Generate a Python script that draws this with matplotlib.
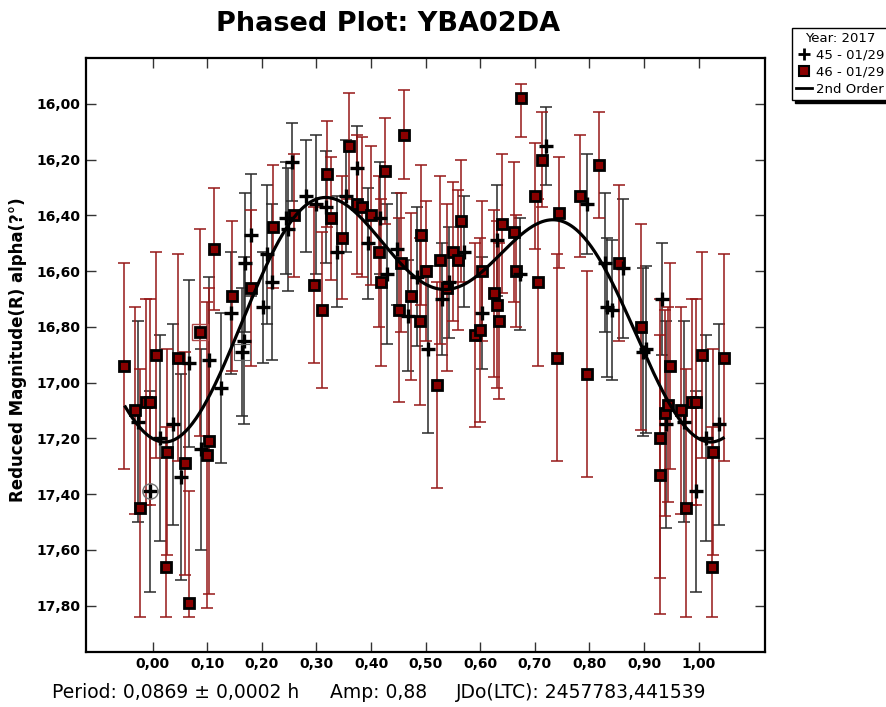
import numpy as np
import matplotlib
matplotlib.use("Agg")
import matplotlib.pyplot as plt
from matplotlib.lines import Line2D
from matplotlib.ticker import FuncFormatter

# session 46 - 01/29 (red squares), phase in [0, 1)
sq_phase = [0.060, 0.066, 0.086, 0.099, 0.104, 0.112, 0.145, 0.180, 0.220, 0.258,
            0.295, 0.310, 0.320, 0.326, 0.346, 0.359, 0.375, 0.383, 0.400, 0.414,
            0.418, 0.425, 0.452, 0.454, 0.460, 0.473, 0.489, 0.492, 0.500, 0.520,
            0.527, 0.539, 0.551, 0.560, 0.565, 0.590, 0.599, 0.603, 0.625, 0.630,
            0.635, 0.639, 0.661, 0.666, 0.674, 0.700, 0.705, 0.713, 0.740, 0.744,
            0.782, 0.795, 0.817, 0.855, 0.894, 0.930, 0.930, 0.939, 0.944, 0.947,
            0.967, 0.976, 0.987, 0.995, 0.007, 0.024, 0.026, 0.046]
sq_mag = [17.29, 17.79, 16.82, 17.26, 17.21, 16.52, 16.69, 16.66, 16.44, 16.40,
          16.65, 16.74, 16.25, 16.41, 16.48, 16.15, 16.36, 16.37, 16.40, 16.53,
          16.64, 16.24, 16.74, 16.57, 16.11, 16.69, 16.78, 16.47, 16.60, 17.01,
          16.56, 16.66, 16.53, 16.56, 16.42, 16.83, 16.81, 16.60, 16.68, 16.72,
          16.78, 16.43, 16.46, 16.60, 15.98, 16.33, 16.64, 16.20, 16.91, 16.39,
          16.33, 16.97, 16.22, 16.57, 16.80, 17.20, 17.33, 17.11, 17.08, 16.94,
          17.10, 17.45, 17.07, 17.07, 16.90, 17.66, 17.25, 16.91]
sq_err = [0.40, 0.40, 0.37, 0.55, 0.55, 0.22, 0.27, 0.28, 0.22, 0.22,
          0.28, 0.28, 0.19, 0.22, 0.22, 0.19, 0.25, 0.25, 0.25, 0.27,
          0.30, 0.19, 0.33, 0.25, 0.16, 0.30, 0.30, 0.25, 0.25, 0.37,
          0.30, 0.30, 0.25, 0.25, 0.22, 0.33, 0.33, 0.25, 0.30, 0.30,
          0.28, 0.25, 0.25, 0.20, 0.14, 0.19, 0.30, 0.17, 0.37, 0.20,
          0.22, 0.37, 0.19, 0.28, 0.37, 0.50, 0.50, 0.37, 0.35, 0.37,
          0.37, 0.50, 0.37, 0.37, 0.37, 0.50, 0.37, 0.37]

# session 45 - 01/29 (black crosses)
cr_phase = [0.013, 0.037, 0.052, 0.066, 0.088, 0.103, 0.125, 0.143, 0.163, 0.167,
            0.170, 0.181, 0.203, 0.209, 0.218, 0.244, 0.247, 0.256, 0.280, 0.300,
            0.318, 0.337, 0.355, 0.375, 0.394, 0.417, 0.429, 0.447, 0.467, 0.484,
            0.505, 0.530, 0.542, 0.570, 0.603, 0.630, 0.672, 0.720, 0.795, 0.828,
            0.832, 0.842, 0.862, 0.899, 0.903, 0.932, 0.941, 0.974, 0.995]
cr_mag = [17.20, 17.15, 17.34, 16.93, 17.24, 16.92, 17.02, 16.75, 16.89, 16.85,
          16.57, 16.47, 16.73, 16.54, 16.64, 16.41, 16.45, 16.21, 16.33, 16.36,
          16.37, 16.53, 16.33, 16.23, 16.50, 16.41, 16.61, 16.52, 16.76, 16.62,
          16.88, 16.70, 16.64, 16.53, 16.75, 16.49, 16.61, 16.15, 16.36, 16.57,
          16.73, 16.74, 16.59, 16.89, 16.88, 16.70, 17.15, 17.14, 17.39]
cr_err = [0.37, 0.36, 0.37, 0.30, 0.36, 0.30, 0.27, 0.22, 0.23, 0.30,
          0.25, 0.22, 0.20, 0.25, 0.28, 0.20, 0.22, 0.14, 0.20, 0.25,
          0.20, 0.20, 0.20, 0.15, 0.20, 0.20, 0.25, 0.20, 0.20, 0.25,
          0.30, 0.20, 0.20, 0.20, 0.20, 0.20, 0.20, 0.14, 0.18, 0.25,
          0.25, 0.25, 0.25, 0.30, 0.30, 0.20, 0.37, 0.36, 0.36]

# highlighted points (plotted phase, mag)
circled = [(-0.005, 17.39)]
boxed_sq = [(0.086, 16.82)]
boxed_cr = [(0.163, 16.89)]

# 2nd order Fourier fit
fit_mean = 16.675
fit_cos = [0.277, 0.249]
fit_sin = [0.005, 0.087]

x_ticks = [0.0, 0.1, 0.2, 0.3, 0.4, 0.5, 0.6, 0.7, 0.8, 0.9, 1.0]
y_ticks = [16.0, 16.2, 16.4, 16.6, 16.8, 17.0, 17.2, 17.4, 17.6, 17.8]

PH_LO, PH_HI = -0.055, 1.05
CLIP_TOP, CLIP_BOT = 15.93, 17.84


def wrap(phase, mag, err):
    phase = np.asarray(phase)
    p = np.concatenate([phase - 1, phase, phase + 1])
    m = np.tile(mag, 3)
    e = np.tile(err, 3)
    keep = (p >= PH_LO) & (p <= PH_HI)
    p, m, e = p[keep], m[keep], e[keep]
    up = m - np.maximum(m - e, CLIP_TOP)
    down = np.minimum(m + e, CLIP_BOT) - m
    return p, m, [up, down]


fig = plt.figure(figsize=(8.86, 7.07), dpi=100)
ax = fig.add_axes([0.0971, 0.0785, 0.7663, 0.8395])

cp, cm, ce = wrap(cr_phase, cr_mag, cr_err)
sp, sm, se = wrap(sq_phase, sq_mag, sq_err)

ax.errorbar(cp, cm, yerr=ce, fmt='none', ecolor='#2a2a2a', elinewidth=1.1,
            capsize=4, capthick=1.1, zorder=2)
ax.errorbar(sp, sm, yerr=se, fmt='none', ecolor='#961818', elinewidth=1.1,
            capsize=4, capthick=1.1, zorder=2)
ax.plot(sp, sm, 's', ms=6.6, mfc='#8b0000', mec='black', mew=2.0, zorder=3)
ax.plot(cp, cm, '+', ms=9.5, color='black', mew=2.4, zorder=4)

hx, hy = zip(*circled)
ax.plot(hx, hy, 'o', ms=11, mfc='none', mec='#707070', mew=1, zorder=4)
hx, hy = zip(*boxed_sq)
ax.plot(hx, hy, 's', ms=12, mfc='none', mec='#b04848', mew=1, zorder=4)
hx, hy = zip(*boxed_cr)
ax.plot(hx, hy, 's', ms=12, mfc='none', mec='#606060', mew=0.8, zorder=4)

ph = np.linspace(-0.05, 1.045, 500)
curve = fit_mean + sum(fit_cos[k] * np.cos(2 * np.pi * (k + 1) * ph) +
                       fit_sin[k] * np.sin(2 * np.pi * (k + 1) * ph) for k in range(2))
ax.plot(ph, curve, color='black', lw=2.3, zorder=5)

ax.set_xlim(-0.122, 1.1215)
ax.set_ylim(17.965, 15.835)
ax.set_xticks(x_ticks)
ax.set_yticks(y_ticks)
fmt = FuncFormatter(lambda v, pos: f"{v:.2f}".replace('.', ','))
ax.xaxis.set_major_formatter(fmt)
ax.yaxis.set_major_formatter(fmt)
ax.tick_params(direction='in', length=7, width=1, color='#333333',
               top=True, right=True, pad=4, labelsize=10)
for lab in ax.get_xticklabels() + ax.get_yticklabels():
    lab.set_fontweight('bold')
for s in ax.spines.values():
    s.set_linewidth(1.6)

fig.text(388 / 886, 1 - 24 / 707, 'Phased Plot: YBA02DA', ha='center', va='center',
         fontsize=19.5, fontweight='bold')
fig.text(18.5 / 886, 1 - 350 / 707, 'Reduced Magnitude(R) alpha(?°)', rotation=90,
         ha='center', va='center', fontsize=12, fontweight='bold')

yb = 1 - 692 / 707
fig.text(52 / 886, yb, 'Period: 0,0869 ± 0,0002 h', ha='left', va='center', fontsize=13.5)
fig.text(330 / 886, yb, 'Amp: 0,88', ha='left', va='center', fontsize=13.5)
fig.text(456 / 886, yb, 'JDo(LTC): 2457783,441539', ha='left', va='center', fontsize=13.5)

handles = [
    Line2D([], [], ls='none', marker='+', color='black', ms=8, mew=2),
    Line2D([], [], ls='none', marker='s', mfc='#8b0000', mec='black', ms=7, mew=1.5),
    Line2D([], [], color='black', lw=2),
]
leg = fig.legend(handles, ['45 - 01/29', '46 - 01/29', '2nd Order'],
                 title='Year: 2017', loc='upper left',
                 bbox_to_anchor=(792 / 886, 1 - 28 / 707), borderaxespad=0,
                 fontsize=9.5, title_fontsize=9.5, handlelength=1.2, handletextpad=0.3,
                 borderpad=0.3, labelspacing=0.3, fancybox=False,
                 edgecolor='black', framealpha=1,
                 shadow={'color': 'black', 'alpha': 1, 'ox': 2, 'oy': -2})
leg.get_frame().set_linewidth(1)

fig.savefig('out.png', dpi=100)
